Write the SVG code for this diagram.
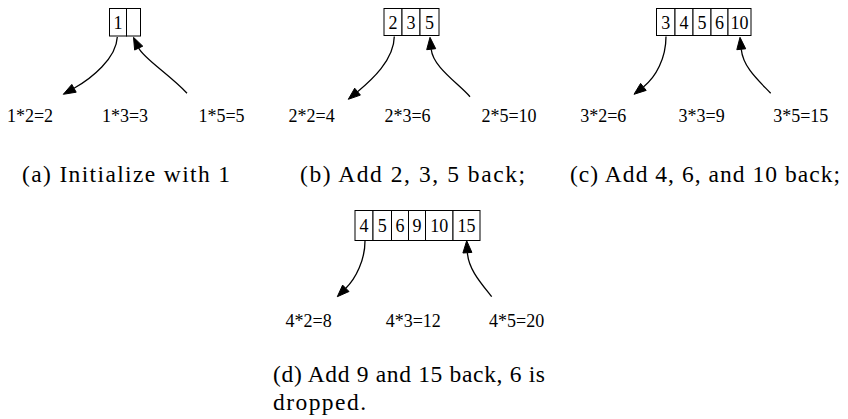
<svg xmlns="http://www.w3.org/2000/svg" width="848" height="419" viewBox="0 0 848 419">
<style>
.cell{fill:#fff;stroke:#000;stroke-width:1}
.num{font-family:"Liberation Serif",serif;font-size:18px;text-anchor:middle;fill:#000}
.lbl{font-family:"Liberation Serif",serif;font-size:18px;text-anchor:middle;fill:#000}
.cap{font-family:"Liberation Serif",serif;font-size:23.5px;fill:#000}
.edge{fill:none;stroke:#000;stroke-width:1.3}
.head{fill:#000;stroke:#000;stroke-width:1}
</style>
<rect width="848" height="419" fill="#fff"/>
<g id="box-a">
<rect class="cell" x="109.5" y="8.5" width="17" height="27.5"/>
<rect class="cell" x="126.5" y="8.5" width="14" height="27.5"/>
<text class="num" x="118" y="28.5">1</text>
</g>
<g id="labels-a">
<text class="lbl" x="30" y="121.5">1*2=2</text>
<text class="lbl" x="125" y="121.5">1*3=3</text>
<text class="lbl" x="221.5" y="121.5">1*5=5</text>
</g>
<g id="box-b">
<rect class="cell" x="384" y="8.5" width="18" height="27"/>
<rect class="cell" x="402" y="8.5" width="18" height="27"/>
<rect class="cell" x="420" y="8.5" width="19" height="27"/>
<text class="num" x="393" y="28.5">2</text>
<text class="num" x="411" y="28.5">3</text>
<text class="num" x="429.5" y="28.5">5</text>
</g>
<g id="labels-b">
<text class="lbl" x="311.7" y="121.5">2*2=4</text>
<text class="lbl" x="407.5" y="121.5">2*3=6</text>
<text class="lbl" x="509" y="121.5">2*5=10</text>
</g>
<g id="box-c">
<rect class="cell" x="656.5" y="8.5" width="18.5" height="27"/>
<rect class="cell" x="675" y="8.5" width="18" height="27"/>
<rect class="cell" x="693" y="8.5" width="18" height="27"/>
<rect class="cell" x="711" y="8.5" width="17" height="27"/>
<rect class="cell" x="728" y="8.5" width="23" height="27"/>
<text class="num" x="665.7" y="28.5">3</text>
<text class="num" x="684" y="28.5">4</text>
<text class="num" x="702" y="28.5">5</text>
<text class="num" x="719.5" y="28.5">6</text>
<text class="num" x="739.5" y="28.5">10</text>
</g>
<g id="labels-c">
<text class="lbl" x="603.3" y="121.5">3*2=6</text>
<text class="lbl" x="701.7" y="121.5">3*3=9</text>
<text class="lbl" x="800.8" y="121.5">3*5=15</text>
</g>
<g id="box-d">
<rect class="cell" x="355" y="210.5" width="18" height="30"/>
<rect class="cell" x="373" y="210.5" width="18.5" height="30"/>
<rect class="cell" x="391.5" y="210.5" width="17" height="30"/>
<rect class="cell" x="408.5" y="210.5" width="17" height="30"/>
<rect class="cell" x="425.5" y="210.5" width="27.5" height="30"/>
<rect class="cell" x="453" y="210.5" width="27" height="30"/>
<text class="num" x="364" y="232">4</text>
<text class="num" x="382.2" y="232">5</text>
<text class="num" x="400" y="232">6</text>
<text class="num" x="417" y="232">9</text>
<text class="num" x="439.2" y="232">10</text>
<text class="num" x="466.5" y="232">15</text>
</g>
<g id="labels-d">
<text class="lbl" x="308.7" y="327">4*2=8</text>
<text class="lbl" x="413.3" y="327">4*3=12</text>
<text class="lbl" x="516.7" y="327">4*5=20</text>
</g>
<g id="connectors">
<path class="edge" d="M117.3,37 C116.3,58.5 91.4,78.5 74,88.3"/>
<polygon class="head" points="63.3,94.3 76.2,92.2 71.8,84.4"/>
<path class="edge" d="M187,93.3 C170,75 143,58 138.7,48.1"/>
<polygon class="head" points="133.5,37.3 134.65,50.06 142.75,46.14"/>
<path class="edge" d="M394.3,36.5 C394,60 371.4,80.2 357.55,91.66"/>
<polygon class="head" points="348.3,99.3 360.4,95.1 354.7,88.2"/>
<path class="edge" d="M470,96.7 C458,83 433,67 431.2,49.2"/>
<polygon class="head" points="430,37.3 426.7,49.7 435.7,48.7"/>
<path class="edge" d="M666,36.5 C666,58 656,77 643.4,86.9"/>
<polygon class="head" points="634,94.3 646.2,90.4 640.6,83.4"/>
<path class="edge" d="M770.7,93.3 C758,80 743.1,67.2 741.25,49.24"/>
<polygon class="head" points="740,37.3 736.8,49.7 745.7,48.8"/>
<path class="edge" d="M365,241 C365,260 355.8,278.5 345.8,288.3"/>
<polygon class="head" points="337.3,296.7 349,291.5 342.6,285.1"/>
<path class="edge" d="M491.7,296.7 C480,282 468.4,268.7 467.4,252.7"/>
<polygon class="head" points="466.7,240.7 462.9,253 471.9,252.4"/>
</g>
<g id="captions">
<text class="cap" x="22" y="182" textLength="208" lengthAdjust="spacing">(a) Initialize with 1</text>
<text class="cap" x="300" y="182" textLength="225" lengthAdjust="spacing">(b) Add 2, 3, 5 back;</text>
<text class="cap" x="570" y="182" textLength="270" lengthAdjust="spacing">(c) Add 4, 6, and 10 back;</text>
<text class="cap" x="273" y="382" textLength="272" lengthAdjust="spacing">(d) Add 9 and 15 back, 6 is</text>
<text class="cap" x="273" y="410" textLength="93" lengthAdjust="spacing">dropped.</text>
</g>
</svg>
